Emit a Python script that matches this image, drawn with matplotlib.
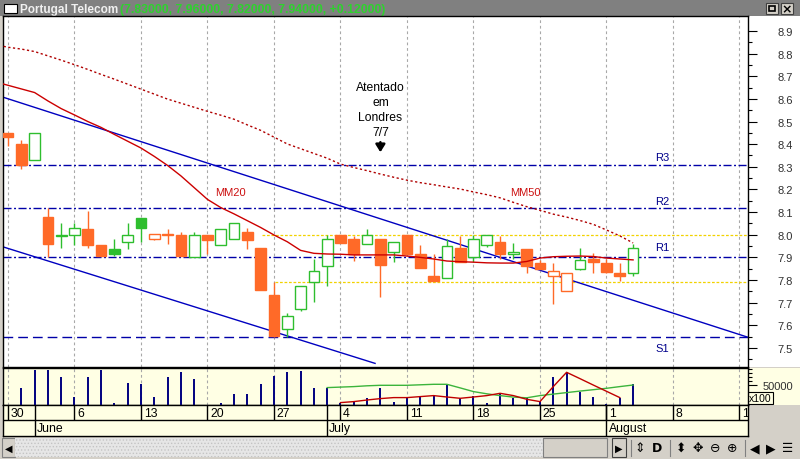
import numpy as np
import matplotlib
matplotlib.use("Agg")
import matplotlib.pyplot as plt
from matplotlib.patches import Rectangle

plt.rcParams['font.family'] = ['Liberation Sans', 'DejaVu Sans']
plt.rcParams['hatch.linewidth'] = 0.6

# Portugal Telecom, daily quotes 30 May - 3 Aug 2005 (x = trading day index)
opens  = [8.45, 8.40, 8.33, 8.08, 7.995, 8.00, 8.025, 7.955, 7.935, 7.97,
          8.075, 7.98, 8.00, 8.00, 7.90, 8.00, 7.955, 7.98, 8.01, 7.94,
          7.735, 7.585, 7.67, 7.79, 7.86, 8.00, 7.98, 7.96, 7.98, 7.925,
          8.00, 7.915, 7.82, 7.81, 7.94, 7.90, 7.955, 7.97, 7.915, 7.935,
          7.875, 7.82, 7.75, 7.85, 7.895, 7.875, 7.83, 7.83]
highs  = [8.45, 8.42, 8.45, 8.12, 8.05, 8.05, 8.105, 7.955, 7.98, 8.05,
          8.075, 8.005, 8.025, 8.01, 8.01, 8.00, 8.025, 8.05, 8.03, 7.94,
          7.79, 7.655, 7.775, 7.895, 8.00, 8.00, 7.995, 8.025, 7.98, 7.97,
          8.00, 7.955, 7.915, 7.98, 7.995, 8.00, 8.00, 7.995, 7.965, 7.935,
          7.89, 7.875, 7.83, 7.94, 7.92, 7.895, 7.875, 7.96]
lows   = [8.39, 8.29, 8.33, 7.90, 7.94, 7.955, 7.94, 7.905, 7.905, 7.935,
          7.97, 7.975, 7.96, 7.905, 7.90, 7.915, 7.955, 7.98, 7.935, 7.755,
          7.55, 7.55, 7.665, 7.705, 7.775, 7.965, 7.885, 7.96, 7.725, 7.88,
          7.915, 7.855, 7.795, 7.81, 7.88, 7.88, 7.945, 7.895, 7.895, 7.83,
          7.85, 7.695, 7.75, 7.845, 7.83, 7.83, 7.795, 7.82]
closes = [8.43, 8.31, 8.45, 7.96, 8.00, 8.03, 7.955, 7.905, 7.917, 8.00,
          8.03, 8.005, 8.00, 7.905, 8.00, 7.975, 8.025, 8.05, 7.975, 7.755,
          7.555, 7.64, 7.775, 7.84, 7.98, 7.965, 7.915, 8.00, 7.865, 7.97,
          7.915, 7.855, 7.795, 7.95, 7.88, 7.98, 8.00, 7.915, 7.925, 7.86,
          7.85, 7.84, 7.83, 7.89, 7.88, 7.835, 7.82, 7.94]
volume = [0, 41750, 87500, 87500, 69250, 19250, 69250, 87500, 4250, 55750,
          51750, 19250, 69250, 81750, 65000, 0, 4250, 26750, 26750, 51750,
          73250, 81750, 85000, 43250, 43250, 5000, 10000, 18250, 43250, 6750,
          19250, 22500, 25000, 51750, 16750, 22500, 5750, 29250, 16750, 16750,
          10000, 69250, 81750, 33250, 20750, 2500, 18250, 51750]

# moving averages, from index -1 to 47
mm20 = [8.676, 8.660, 8.644, 8.628, 8.591, 8.557, 8.529, 8.500, 8.474, 8.443,
        8.413, 8.383, 8.346, 8.306, 8.260, 8.208, 8.156, 8.120, 8.092, 8.062,
        8.032, 7.999, 7.969, 7.931, 7.918, 7.915, 7.914, 7.911, 7.911, 7.911,
        7.911, 7.906, 7.900, 7.893, 7.884, 7.881, 7.879, 7.876, 7.875, 7.875,
        7.882, 7.897, 7.903, 7.905, 7.906, 7.904, 7.897, 7.893, 7.889]
mm50 = [8.840, 8.828, 8.820, 8.809, 8.790, 8.771, 8.751, 8.730, 8.708, 8.687,
        8.665, 8.643, 8.621, 8.599, 8.581, 8.563, 8.545, 8.528, 8.510, 8.485,
        8.461, 8.431, 8.401, 8.380, 8.359, 8.338, 8.312, 8.297, 8.283, 8.268,
        8.254, 8.241, 8.230, 8.221, 8.211, 8.202, 8.189, 8.177, 8.163, 8.143,
        8.124, 8.108, 8.091, 8.078, 8.063, 8.046, 8.021, 7.995, 7.964]

# volume indicators (green from index 24, red from index 25)
vol_green = [43500, 44750, 46000, 48000, 49250, 49250, 49250, 50500, 51750, 51750,
             42750, 33500, 28000, 23500, 19750, 18000, 23500, 27250, 31000, 34750,
             38250, 41750, 46000, 50000]
vol_red = [6000, 8500, 12500, 16000, 18500, 18500, 21000, 23500, 20000, 16750,
           20000, 23500, 29250, 23500, 14250, 8500, 46000, 81750, 66000, 50000,
           34250, 18500]

trend_up_x, trend_up_y = [-0.4, 55.6], [8.608, 7.548]
trend_dn_x, trend_dn_y = [-0.4, 27.6], [7.947, 7.432]
level_names = ['R3', 'R2', 'R1', 'S1']
level_values = [8.31, 8.12, 7.90, 7.55]
band_values = [8.00, 7.79]
band_start = [19.1, 20.1]

monday_labels = ['30', '6', '13', '20', '27', '4', '11', '18', '25', '1', '8', '15']
month_names = ['June', 'July', 'August']
month_start = [2, 24, 45]

ORANGE = '#FF6A28'
GREEN = '#2EBE2E'
NAVY = '#00008B'
YELLOW_BG = '#FFFFE4'
GRAY = '#D4D0C8'
W, H = 800, 460
XL = (-0.376, 55.64)


def box(x0, y0, x1, y1):
    return [x0 / W, 1 - y1 / H, (x1 - x0) / W, (y1 - y0) / H]


fig = plt.figure(figsize=(8, 4.6), dpi=100)
fig.patch.set_facecolor(GRAY)

# window chrome in pixel coords
bg = fig.add_axes([0, 0, 1, 1])
bg.set_xlim(0, W)
bg.set_ylim(H, 0)
bg.axis('off')
bg.add_patch(Rectangle((0, 0), 800, 17, fc='#808080', ec='none'))
bg.add_patch(Rectangle((4, 5), 13, 9, fc='white', ec='black', lw=0.8))
bg.text(20, 9.5, 'Portugal Telecom', color='#F0F0F0', fontsize=8.5,
        fontweight='bold', va='center', ha='left')
bg.text(120, 9.5, '(7.83000, 7.96000, 7.82000, 7.94000, +0.12000)', color='#2ED22E',
        fontsize=8.8, fontweight='bold', va='center', ha='left')
for bx in (766, 781):
    bg.add_patch(Rectangle((bx, 4), 12, 11, fc=GRAY, ec='#404040', lw=0.8))
bg.add_patch(Rectangle((769, 7), 6, 5, fc='none', ec='black', lw=1.2))
bg.text(787, 9.5, '×', fontsize=9, fontweight='bold', ha='center', va='center',
        family='DejaVu Sans')
bg.add_patch(Rectangle((748, 17), 52, 351, fc='white', ec='none'))
bg.add_patch(Rectangle((748, 369), 52, 37, fc=YELLOW_BG, ec='none'))
bg.text(760, 399, 'x100', ha='center', va='center', fontsize=7.5,
        bbox=dict(boxstyle='square,pad=0.12', fc=YELLOW_BG, ec='black', lw=0.8))

# bottom toolbar
bg.add_patch(Rectangle((2, 439), 13, 19, fc=GRAY, ec='#808080', lw=0.8))
bg.text(8.5, 448.5, '◀', fontsize=7, ha='center', va='center', family='DejaVu Sans')
bg.add_patch(Rectangle((15, 439), 528, 19, fc='#E6E6E6', ec='#C4C4C4', lw=0, hatch='.....'))
bg.add_patch(Rectangle((543, 439), 64, 19, fc=GRAY, ec='#808080', lw=0.8))
bg.add_patch(Rectangle((612, 439), 14, 19, fc=GRAY, ec='#404040', lw=0.8))
bg.text(619, 448.5, '▶', fontsize=7, ha='center', va='center', family='DejaVu Sans')
for sx in (631, 670, 745):
    bg.plot([sx, sx], [441, 457], color='#808080', lw=0.8)
icons = [(640, '⇕'), (657, 'D'), (681, '⬍'), (698, '✥'), (715, '⊖'),
         (732, '⊕'), (755, '◀'), (771, '▶'), (788, '☰')]
for ix, glyph in icons:
    bg.text(ix, 449, glyph, fontsize=9, ha='center', va='center',
            family=['DejaVu Sans'], fontweight='bold' if glyph == 'D' else 'normal')

# price panel
ax = fig.add_axes(box(3, 17, 748, 368))
ax.set_facecolor('white')
ax.set_xlim(*XL)
ax.set_ylim(7.416, 8.966)
for d in np.arange(0, 56, 5):
    ax.axvline(d, color='#A8A8A8', lw=0.8, ls=(0, (2.5, 2.5)), zorder=1)

for name, lv in zip(level_names, level_values):
    style = (0, (7, 3.6)) if name == 'S1' else (0, (5.8, 1.8, 1.4, 1.8))
    ax.axhline(lv, color='#0000A8', lw=1, ls=style, zorder=2)
for bv, bs in zip(band_values, band_start):
    ax.plot([bs, XL[1]], [bv, bv], color='#F2D200', lw=0.9, ls=(0, (2.2, 1.4)), zorder=2)

ax.plot(trend_up_x, trend_up_y, color='#0000C0', lw=1, zorder=2)
ax.plot(trend_dn_x, trend_dn_y, color='#0000C0', lw=1, zorder=2)

ma_x = np.arange(-1, len(mm20) - 1)
ax.plot(ma_x, mm20, color='#CC0000', lw=1, zorder=5)
ax.plot(ma_x, mm50, color='#B00000', lw=1, ls=(0, (1.6, 1.8)), zorder=5)

prev = opens[0]
for i, (o, h, l, c) in enumerate(zip(opens, highs, lows, closes)):
    col = GREEN if c > prev else ORANGE
    hollow = c > o
    ax.vlines(i, l, h, color=col, lw=1, zorder=3)
    ax.add_patch(Rectangle((i - 0.4, min(o, c)), 0.8, max(abs(c - o), 0.002),
                           fc='white' if hollow else col, ec=col, lw=1, zorder=4))
    prev = c

ax.text(16.7, 8.189, 'MM20', color='#CC1010', fontsize=8, ha='center', va='center')
ax.text(38.9, 8.189, 'MM50', color='#CC1010', fontsize=8, ha='center', va='center')
label_y = [8.343, 8.149, 7.946, 7.50]
for name, ly in zip(level_names, label_y):
    ax.text(49.2, ly, name, color=NAVY, fontsize=8, ha='center', va='center')

ax.text(28, 8.553, 'Atentado\nem\nLondres\n7/7', fontsize=8.7, ha='center',
        va='center', linespacing=1.32)
ax.annotate('', xy=(28, 8.352), xytext=(28, 8.421),
            arrowprops=dict(arrowstyle='-|>,head_width=0.28,head_length=0.45',
                            lw=1.8, color='black'))

ax.yaxis.tick_right()
ax.set_yticks(np.round(np.arange(7.5, 8.95, 0.1), 1))
ax.set_yticks(np.round(np.arange(7.45, 8.95, 0.1), 2), minor=True)
ax.yaxis.set_major_formatter(matplotlib.ticker.FormatStrFormatter('%.1f'))
ax.tick_params(axis='y', which='major', length=6.5, width=0.8, pad=15,
               labelsize=8, labelcolor='#303030')
ax.tick_params(axis='y', which='minor', length=3, width=0.8)
ax.set_xticks([])
for sp in ax.spines.values():
    sp.set_color('black')
    sp.set_linewidth(1)

# volume panel
vax = fig.add_axes(box(3, 369, 748, 406))
vax.set_facecolor(YELLOW_BG)
vax.set_xlim(*XL)
vax.set_ylim(0, 92500)
for d in np.arange(0, 56, 5):
    vax.axvline(d, color='#A8A8A8', lw=0.8, ls=(0, (2.5, 2.5)), zorder=1)
vax.vlines(np.arange(len(volume)), 0, volume, color='#000080', lw=1.4, zorder=3)
vax.plot(np.arange(24, 24 + len(vol_green)), vol_green, color='#3CB43C', lw=1, zorder=4)
vax.plot(np.arange(25, 25 + len(vol_red)), vol_red, color='#C00000', lw=1, zorder=4)
vax.yaxis.tick_right()
vax.set_yticks([50000])
vax.set_yticks([60000, 70000, 80000, 90000], minor=True)
vax.tick_params(axis='y', which='major', length=6.5, width=0.8, pad=4,
                labelsize=8, labelcolor='#303030')
vax.tick_params(axis='y', which='minor', length=3, width=0.8)
vax.set_xticks([])
for sp in vax.spines.values():
    sp.set_color('black')
    sp.set_linewidth(1)

# date strip
dax = fig.add_axes(box(3, 406, 748, 437))
dax.set_facecolor(YELLOW_BG)
dax.set_xlim(*XL)
dax.set_ylim(31, 0)
dax.set_xticks([])
dax.set_yticks([])
mondays = np.arange(0, 56, 5)
dax.vlines(mondays, 0, 15, color='black', lw=1)
dax.vlines(month_start, 0, 31, color='black', lw=1)
dax.axhline(15, color='black', lw=1)
for d, lab in zip(mondays, monday_labels):
    dax.text(d + 0.2, 7.8, lab, fontsize=8.8, ha='left', va='center', clip_on=True)
for m, name in zip(month_start, month_names):
    dax.text(m + 0.15, 23.5, name, fontsize=8.8, ha='left', va='center', clip_on=True)
for sp in dax.spines.values():
    sp.set_color('black')
    sp.set_linewidth(1)

fig.savefig('out.png', dpi=100, facecolor=fig.get_facecolor())
